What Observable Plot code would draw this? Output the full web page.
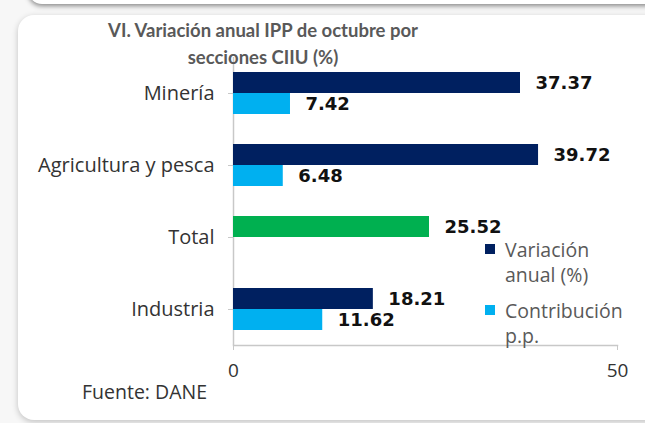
<!DOCTYPE html>
<html>
<head>
<meta charset="utf-8">
<script src="https://cdn.jsdelivr.net/npm/d3@7"></script>
<script src="https://cdn.jsdelivr.net/npm/@observablehq/plot@0.6"></script>
<style>
  html, body { margin: 0; padding: 0; }
  body { width: 645px; height: 423px; position: relative; overflow: hidden; background: #f7f7f7; font-family: "Open Sans", sans-serif; }
  #topPanel { position: absolute; left: 28px; top: -30px; width: 640px; height: 34px; background: #fff; border-radius: 14px; box-shadow: 0 2px 5px rgba(0,0,0,0.45); }
  #panel { position: absolute; left: 18px; top: 15px; width: 660px; height: 405px; background: #fff; border-radius: 16px; box-shadow: 0 2px 6px rgba(0,0,0,0.22); }
  #title { position: absolute; left: 60px; width: 406px; top: 17px; text-align: center; color: #595959; font-family: Lato, sans-serif; font-weight: bold; font-size: 18.5px; line-height: 26.5px; z-index: 3; }
  #chart { position: absolute; left: 0; top: 50px; z-index: 2; }
  #legend { position: absolute; left: 485px; top: 237px; z-index: 3; color: #595959; font-size: 19.5px; line-height: 25px; }
  .item { position: relative; padding-left: 20px; margin-bottom: 11px; }
  .sw { position: absolute; left: 0; top: 7px; width: 10px; height: 10px; }
  #source { position: absolute; left: 82px; top: 382px; color: #333; font-size: 19.5px; line-height: 20px; z-index: 3; }
</style>
</head>
<body>
<div id="topPanel"></div>
<div id="panel"></div>
<div id="title">VI. Variación anual IPP de octubre por<br>secciones CIIU (%)</div>
<div id="chart"></div>
<div id="legend"></div>
<div id="source">Fuente: DANE</div>
<script>
const categories = ["Minería", "Agricultura y pesca", "Total", "Industria"];
const series = ["Variación anual (%)", "Contribución p.p."];
const variacion = [37.37, 39.72, 25.52, 18.21];
const contribucion = [7.42, 6.48, null, 11.62];
const xTicks = [0, 50];
const colors = {"Variación anual (%)": "#002060", "Contribución p.p.": "#00b0f0", "Total": "#00b050"};

const rows = [];
categories.forEach((c, i) => {
  rows.push({cat: c, serie: series[0], value: variacion[i], key: c === "Total" ? "Total" : series[0]});
  if (contribucion[i] != null) rows.push({cat: c, serie: series[1], value: contribucion[i], key: series[1]});
});

const chart = Plot.plot({
  width: 645,
  height: 330,
  marginLeft: 233,
  marginRight: 28,
  marginTop: 7,
  marginBottom: 35,
  style: {background: "transparent", fontFamily: "'Open Sans', sans-serif", overflow: "visible"},
  x: {domain: [0, 50]},
  y: {domain: series, paddingInner: 0, paddingOuter: 0.714, axis: null},
  fy: {domain: categories, padding: 0, label: null},
  color: {domain: Object.keys(colors), range: Object.values(colors)},
  marks: [
    Plot.ruleX([0], {stroke: "#c8c8c8", strokeWidth: 1.5}),
    Plot.barX(rows, {x: "value", y: "serie", fy: "cat", fill: "key"}),
    Plot.text(rows, {x: "value", y: "serie", fy: "cat", text: d => d.value.toFixed(2), textAnchor: "start", dx: 15, fontSize: 18, fontWeight: "bold", fontFamily: "DejaVu Sans, sans-serif", fill: "#111"}),
    Plot.axisFy({anchor: "left", label: null, tickSize: 5, tickPadding: 14, fontSize: 20, stroke: "#c8c8c8", fill: "#333"}),
    Plot.axisX({ticks: xTicks, tickSize: 5, tickPadding: 13, fontSize: 19, label: null, stroke: "#c8c8c8", fill: "#333"}),
    Plot.frame({anchor: "bottom", facetAnchor: "bottom", stroke: "#c8c8c8", strokeWidth: 1.5})
  ]
});
document.getElementById("chart").appendChild(chart);

const legend = document.getElementById("legend");
[["Variación", "anual (%)"], ["Contribución", "p.p."]].forEach((lines, i) => {
  const it = document.createElement("div");
  it.className = "item";
  const sw = document.createElement("div");
  sw.className = "sw";
  sw.style.background = colors[series[i]];
  it.appendChild(sw);
  it.appendChild(document.createTextNode(lines[0]));
  it.appendChild(document.createElement("br"));
  it.appendChild(document.createTextNode(lines[1]));
  legend.appendChild(it);
});
</script>
</body>
</html>
